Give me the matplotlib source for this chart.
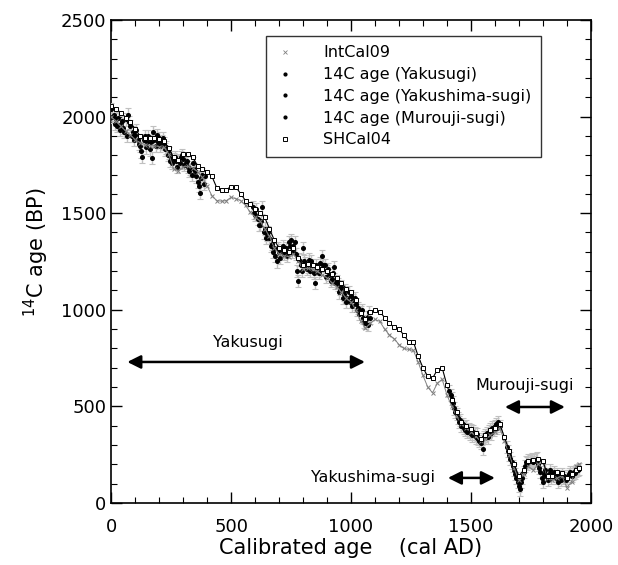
import numpy as np
import matplotlib
matplotlib.use("Agg")
import matplotlib.pyplot as plt
from matplotlib.ticker import MultipleLocator

# --- calibration curves (20-yr steps) ---
curve_years = [0, 20, 40, 60, 80, 100, 120, 140, 160, 180, 200, 220, 240, 260, 280,
               300, 320, 340, 360, 380, 400, 420, 440, 460, 480, 500, 520, 540, 560, 580,
               600, 620, 640, 660, 680, 700, 720, 740, 760, 780, 800, 820, 840, 860, 880,
               900, 920, 940, 960, 980, 1000, 1020, 1040, 1060, 1080, 1100, 1120, 1140,
               1160, 1180, 1200, 1220, 1240, 1260, 1280, 1300, 1320, 1340, 1360, 1380,
               1400, 1420, 1440, 1460, 1480, 1500, 1520, 1540, 1560, 1580, 1600, 1620,
               1640, 1660, 1680, 1700, 1720, 1740, 1760, 1780, 1800, 1820, 1840, 1860,
               1880, 1900, 1920, 1940, 1950]

shcal04 = [2055, 2040, 2020, 1995, 1970, 1935, 1900, 1888, 1890, 1888, 1885, 1872, 1835,
           1790, 1775, 1805, 1805, 1790, 1745, 1728, 1715, 1690, 1632, 1622, 1622, 1638,
           1635, 1600, 1565, 1545, 1520, 1500, 1478, 1420, 1360, 1320, 1310, 1300, 1320,
           1270, 1230, 1235, 1230, 1220, 1210, 1200, 1185, 1165, 1140, 1110, 1090, 1050,
           985, 950, 990, 1000, 990, 960, 930, 910, 900, 870, 835, 835, 760, 700, 655,
           645, 690, 700, 610, 535, 470, 420, 400, 385, 360, 330, 350, 380, 390, 410,
           340, 270, 200, 140, 170, 215, 225, 230, 220, 140, 140, 160, 155, 130, 150,
           170, 180]

intcal09 = [2000, 1975, 1950, 1925, 1905, 1880, 1865, 1855, 1850, 1848, 1845, 1840, 1805,
            1730, 1720, 1740, 1742, 1735, 1715, 1685, 1640, 1590, 1565, 1562, 1565, 1582,
            1575, 1565, 1540, 1505, 1480, 1460, 1420, 1380, 1320, 1290, 1280, 1275, 1290,
            1250, 1210, 1215, 1210, 1200, 1180, 1165, 1140, 1120, 1090, 1060, 1040, 1000,
            940, 905, 930, 950, 940, 900, 870, 850, 820, 800, 795, 790, 730, 660, 600,
            570, 620, 640, 560, 500, 450, 410, 390, 370, 345, 320, 330, 350, 365, 390,
            320, 250, 180, 120, 150, 190, 170, 200, 210, 130, 120, 130, 140, 80, 110,
            190, 200]

# --- tree-ring 14C ages ---
yakusugi_years = (list(range(0, 400, 10)) + list(range(590, 1090, 10))
                  + list(range(5, 390, 10)) + list(range(595, 1080, 10)))
yakusugi_age = [2040, 2010, 1985, 1990, 1960, 1940, 1985, 2010, 1950, 1920,
                1905, 1880, 1850, 1790, 1900, 1870, 1830, 1785, 1880, 1905,
                1890, 1870, 1860, 1840, 1810, 1790, 1780, 1770, 1775, 1790,
                1780, 1760, 1740, 1730, 1760, 1720, 1660, 1605, 1700, 1690,
                1530, 1490, 1470, 1440, 1530, 1420, 1390, 1370, 1340, 1320,
                1250, 1300, 1310, 1290, 1320, 1350, 1360, 1330, 1290, 1150,
                1230, 1320, 1240, 1220, 1200, 1230, 1140, 1210, 1240, 1280,
                1230, 1200, 1180, 1160, 1220, 1150, 1090, 1120, 1080, 1040,
                1090, 1070, 1050, 1030, 1010, 990, 960, 930, 920, 960,
                # intermediate rings
                2000, 1960, 1950, 1930, 1975, 1920, 1900, 1970, 1900, 1880,
                1930, 1860, 1820, 1880, 1840, 1900, 1870, 1920, 1850, 1870,
                1850, 1890, 1830, 1800, 1770, 1760, 1790, 1740, 1760, 1800,
                1750, 1770, 1720, 1700, 1730, 1690, 1640, 1680, 1650,
                1500, 1520, 1440, 1460, 1400, 1370, 1400, 1330, 1300, 1280,
                1320, 1270, 1330, 1300, 1280, 1330, 1300, 1350, 1200, 1260,
                1200, 1250, 1210, 1260, 1250, 1190, 1230, 1190, 1210, 1230,
                1170, 1210, 1150, 1190, 1140, 1130, 1110, 1060, 1100, 1060,
                1040, 1020, 1060, 1000, 980, 1000, 940, 960, 990]

yakushima_years = list(range(1410, 1625, 5))
yakushima_age = [580, 560, 540, 520, 490, 470, 460, 440, 420, 430, 400, 410, 390, 380,
                 400, 370, 380, 360, 375, 350, 370, 360, 340, 355, 330, 320, 310, 330,
                 280, 340, 350, 360, 340, 370, 380, 360, 390, 380, 400, 410, 390, 420,
                 400]

murouji_years = list(range(1650, 1955, 5))
murouji_age = [290, 270, 250, 230, 210, 190, 170, 150, 130, 110, 90, 70, 110, 130, 160,
               190, 210, 205, 220, 215, 220, 225, 210, 220, 225, 230, 200, 180, 160, 130,
               110, 150, 170, 140, 120, 150, 170, 130, 150, 160, 140, 130, 150, 110, 140,
               120, 150, 130, 140, 120, 130, 140, 150, 160, 140, 150, 160, 155, 165, 170,
               175]

age_err = 32

# --- period arrows: (label, start, end, arrow_y, text_x, text_y) ---
periods = [("Yakusugi", 67, 1058, 730, 570, 830),
           ("Yakushima-sugi", 1404, 1600, 130, 1092, 130),
           ("Murouji-sugi", 1642, 1892, 497, 1725, 606)]

plt.rcParams["font.family"] = ["DejaVu Sans"]

fig = plt.figure(figsize=(6.18, 5.65), dpi=100)
ax = fig.add_axes([0.18, 0.1097, 0.776, 0.855])

err_kw = dict(fmt="o", ms=2.6, color="black", ecolor="#c0c0c0", elinewidth=1.0,
              capsize=2, capthick=0.8, zorder=3)
ax.errorbar(yakusugi_years, yakusugi_age, yerr=age_err, **err_kw)
ax.errorbar(yakushima_years, yakushima_age, yerr=age_err, **err_kw)
ax.errorbar(murouji_years, murouji_age, yerr=age_err, **err_kw)

ax.plot(curve_years, intcal09, color="#808080", lw=0.7, marker="x", ms=2.4,
        mew=0.7, zorder=4)
ax.plot(curve_years, shcal04, color="black", lw=0.8, marker="s", ms=2.2,
        mfc="white", mec="black", mew=0.7, zorder=5)

for label, x0, x1, ya, tx, ty in periods:
    ax.annotate("", xy=(x0, ya), xytext=(x1, ya),
                arrowprops=dict(arrowstyle="<|-|>", color="black", lw=1.8,
                                mutation_scale=20, shrinkA=0, shrinkB=0))
    ax.text(tx, ty, label, ha="center", va="center", fontsize=11.5)

# legend
h_int, = ax.plot([], [], ls="none", marker="x", ms=2.5, mew=0.6, color="#808080")
h_dot, = ax.plot([], [], ls="none", marker="o", ms=2, color="black")
h_sh, = ax.plot([], [], ls="none", marker="s", ms=2.4, mfc="white", mec="black", mew=0.7)
leg = ax.legend([h_int, h_dot, h_dot, h_dot, h_sh],
                ["IntCal09", "14C age (Yakusugi)", "14C age (Yakushima-sugi)",
                 "14C age (Murouji-sugi)", "SHCal04"],
                loc="upper right", bbox_to_anchor=(0.896, 0.967), borderaxespad=0,
                fontsize=11.5, frameon=True, fancybox=False, edgecolor="black",
                handlelength=1.2, labelspacing=0.42, borderpad=0.6, handletextpad=1.8)
leg.get_frame().set_linewidth(1.0)

ax.set_xlim(0, 2000)
ax.set_ylim(0, 2500)
ax.xaxis.set_major_locator(MultipleLocator(500))
ax.xaxis.set_minor_locator(MultipleLocator(100))
ax.yaxis.set_major_locator(MultipleLocator(500))
ax.yaxis.set_minor_locator(MultipleLocator(100))
ax.tick_params(which="both", direction="in", top=True, right=True, labelsize=13)
ax.tick_params(which="major", length=8, width=1)
ax.tick_params(which="minor", length=4, width=0.8)
ax.tick_params(axis="x", pad=11)
for s in ax.spines.values():
    s.set_linewidth(1.2)

ax.set_xlabel("Calibrated age    (cal AD)", fontsize=15, labelpad=1)
ax.set_ylabel("$^{14}$C age (BP)", fontsize=15, labelpad=4)
ax.yaxis.set_label_coords(-0.125, 0.52)

fig.savefig("out.png", dpi=100)
